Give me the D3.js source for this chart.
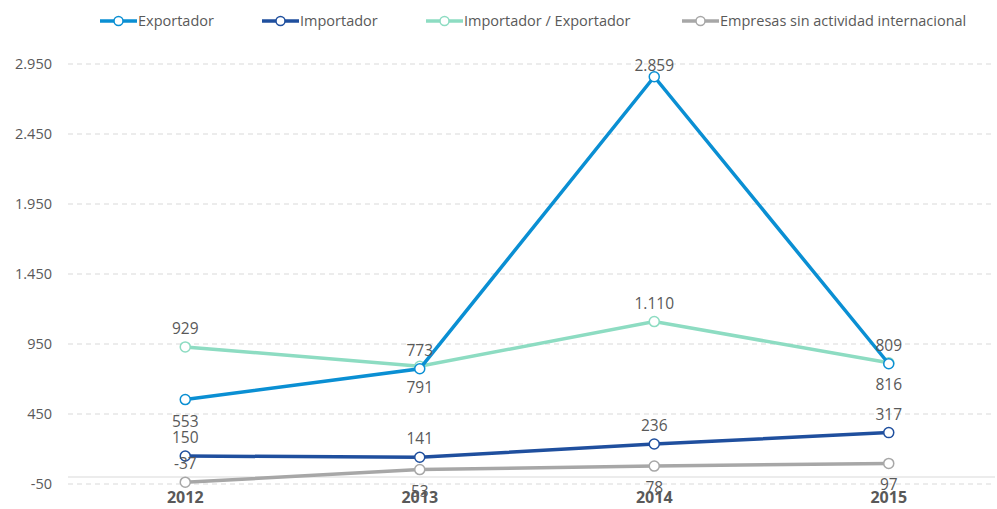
<!DOCTYPE html>
<html>
<head>
<meta charset="utf-8">
<script src="https://cdn.jsdelivr.net/npm/d3@7"></script>
<style>
  body { margin: 0; background: #fff; }
  svg { font-family: "Open Sans", "Noto Sans", sans-serif; }
</style>
</head>
<body>
<svg width="997" height="509"></svg>
<script>
var years = ["2012", "2013", "2014", "2015"];
var exportador = [553, 773, 2859, 809];
var importador = [150, 141, 236, 317];
var impExp = [929, 791, 1110, 816];
var sinActividad = [-37, 53, 78, 97];
var yTicks = [-50, 450, 950, 1450, 1950, 2450, 2950];

var series = [
  { name: "Exportador", values: exportador, color: "#0a8fd3", pos: ["below", "above", "above", "above"] },
  { name: "Importador", values: importador, color: "#1f4f9e", pos: ["above", "above", "above", "above"] },
  { name: "Importador / Exportador", values: impExp, color: "#8ddcc2", pos: ["above", "below", "above", "below"] },
  { name: "Empresas sin actividad internacional", values: sinActividad, color: "#a7a7a7", pos: ["above", "below", "below", "below"] }
];

var svg = d3.select("svg"),
    width = +svg.attr("width"),
    height = +svg.attr("height");

var x = d3.scalePoint()
    .domain(years)
    .range([68, 1006])
    .padding(0.5);

var y = d3.scaleLinear()
    .domain([-50, 2950])
    .range([484, 64]);

var fmt = d3.formatLocale({ decimal: ",", thousands: ".", grouping: [3], currency: ["", ""], minus: "-" }).format(",d");

// grid
svg.append("g")
  .selectAll("line")
  .data(yTicks)
  .enter().append("line")
    .attr("x1", 68).attr("x2", 995)
    .attr("y1", function(d) { return y(d); })
    .attr("y2", function(d) { return y(d); })
    .attr("stroke", "#d9d9d9")
    .attr("stroke-dasharray", "5,4");

svg.append("line")
    .attr("x1", 68).attr("x2", 995)
    .attr("y1", y(0)).attr("y2", y(0))
    .attr("stroke", "#d9d9d9");

// y axis labels
svg.append("g")
  .selectAll("text")
  .data(yTicks)
  .enter().append("text")
    .attr("x", 52)
    .attr("y", function(d) { return y(d); })
    .attr("dy", "0.35em")
    .attr("text-anchor", "end")
    .attr("fill", "#595959")
    .style("font-size", "14.5px")
    .text(function(d) { return fmt(d); });

// x axis labels
svg.append("g")
  .selectAll("text")
  .data(years)
  .enter().append("text")
    .attr("x", function(d) { return x(d); })
    .attr("y", 503)
    .attr("text-anchor", "middle")
    .attr("fill", "#595959")
    .style("font-size", "16px")
    .style("font-weight", "bold")
    .text(function(d) { return d; });

var line = d3.line()
    .x(function(d, i) { return x(years[i]); })
    .y(function(d) { return y(d); });

// light series first so the blue ones sit on top where they cross
var drawOrder = [3, 1, 2, 0];
drawOrder.forEach(function(k) {
  var s = series[k];
  var g = svg.append("g");
  g.append("path")
      .datum(s.values)
      .attr("fill", "none")
      .attr("stroke", s.color)
      .attr("stroke-width", 3.5)
      .attr("d", line);
  g.selectAll("circle")
    .data(s.values)
    .enter().append("circle")
      .attr("cx", function(d, i) { return x(years[i]); })
      .attr("cy", function(d) { return y(d); })
      .attr("r", 5)
      .attr("fill", "#fff")
      .attr("stroke", s.color)
      .attr("stroke-width", 1.5);
});

// data labels (kept inside the plot area like the original)
series.forEach(function(s) {
  svg.append("g")
    .selectAll("text")
    .data(s.values)
    .enter().append("text")
      .attr("x", function(d, i) { return x(years[i]); })
      .attr("y", function(d, i) {
        if (s.pos[i] === "above") return Math.max(71, Math.min(480, y(d) - 13));
        return y(d) + 27;
      })
      .attr("text-anchor", "middle")
      .attr("fill", "#595959")
      .style("font-size", "15.5px")
      .text(function(d) { return fmt(d); });
});

// legend
var legendX = [100, 262, 426, 682];
var legend = svg.append("g")
  .selectAll("g")
  .data(series)
  .enter().append("g")
    .attr("transform", function(d, i) { return "translate(" + legendX[i] + ",21)"; });

legend.append("line")
    .attr("x1", 0).attr("x2", 37)
    .attr("stroke", function(d) { return d.color; })
    .attr("stroke-width", 3.5);

legend.append("circle")
    .attr("cx", 18.5)
    .attr("r", 4.5)
    .attr("fill", "#fff")
    .attr("stroke", function(d) { return d.color; })
    .attr("stroke-width", 1.5);

legend.append("text")
    .attr("x", 38)
    .attr("dy", "0.35em")
    .attr("fill", "#595959")
    .style("font-size", "14.5px")
    .text(function(d) { return d.name; });
</script>
</body>
</html>
